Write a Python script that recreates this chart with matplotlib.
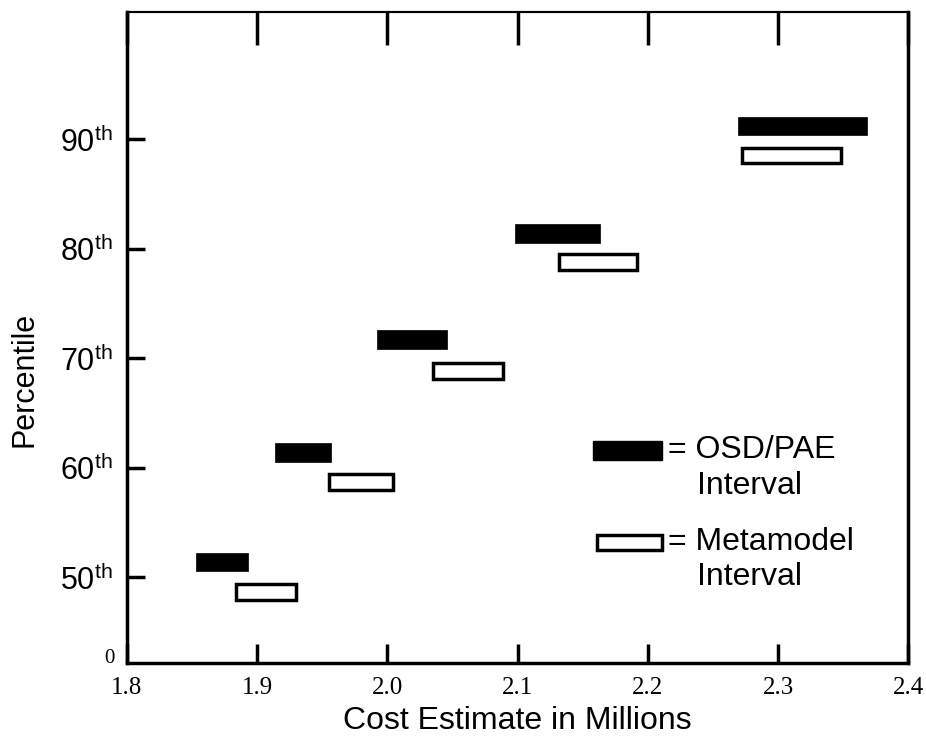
import matplotlib
matplotlib.use("Agg")
import matplotlib.pyplot as plt
from matplotlib.patches import Rectangle

plt.rcParams['font.family'] = ['Liberation Sans', 'DejaVu Sans']
plt.rcParams['mathtext.fontset'] = 'custom'
plt.rcParams['mathtext.rm'] = 'Liberation Sans'

# percentile intervals (cost estimate in millions)
percentiles = [50, 60, 70, 80, 90]
osd_y = [51.4, 61.4, 71.7, 81.4, 91.2]
osd_lo = [1.853, 1.914, 1.992, 2.098, 2.269]
osd_hi = [1.893, 1.957, 2.046, 2.163, 2.368]
meta_y = [48.7, 58.7, 68.8, 78.8, 88.5]
meta_lo = [1.884, 1.955, 2.035, 2.132, 2.272]
meta_hi = [1.930, 2.004, 2.089, 2.192, 2.348]
xticks = [1.8, 1.9, 2.0, 2.1, 2.2, 2.3, 2.4]

fig = plt.figure(figsize=(9.26, 7.49), dpi=100)
ax = fig.add_axes([0.137, 0.115, 0.844, 0.869])

ax.barh(osd_y, [h - l for l, h in zip(osd_lo, osd_hi)], left=osd_lo,
        height=1.7, color='black', edgecolor='black', linewidth=0.5)
ax.barh(meta_y, [h - l for l, h in zip(meta_lo, meta_hi)], left=meta_lo,
        height=1.45, color='white', edgecolor='black', linewidth=2.5)

ax.set_xlim(1.8, 2.4)
ax.set_ylim(42.2, 101.6)

ax.set_xticks(xticks)
ax.set_xticklabels(['%.1f' % v for v in xticks], family='Liberation Serif', fontsize=18)
ax.set_yticks(percentiles)
ax.set_yticklabels(['%d$^{\\mathrm{th}}$' % p for p in percentiles], fontsize=22)
ax.tick_params(axis='x', direction='in', length=14, width=2.5, pad=10)
ax.tick_params(axis='y', direction='in', length=13, width=2.5, pad=10)

# longer ticks along the top edge
top = ax.secondary_xaxis('top')
top.set_xticks(xticks)
top.tick_params(direction='in', length=24, width=2.5, labeltop=False)
top.spines['top'].set_linewidth(1.5)

for side in ['left', 'bottom', 'right']:
    ax.spines[side].set_linewidth(2.5)
ax.spines['top'].set_linewidth(1.5)

ax.text(-0.016, 0.006, '0', transform=ax.transAxes, ha='right', va='center',
        family='Liberation Serif', fontsize=15)

ax.set_xlabel('Cost Estimate in Millions', fontsize=23, labelpad=5)
ax.set_ylabel('Percentile', fontsize=22)
ax.yaxis.set_label_coords(-0.112, 0.435)

# hand drawn key
ax.add_patch(Rectangle((0.597, 0.312), 0.088, 0.029, transform=ax.transAxes,
                       facecolor='black', edgecolor='black'))
ax.add_patch(Rectangle((0.602, 0.174), 0.083, 0.022, transform=ax.transAxes,
                       facecolor='white', edgecolor='black', linewidth=2.5))
ax.text(0.693, 0.327, '= OSD/PAE', transform=ax.transAxes, va='center', fontsize=23)
ax.text(0.730, 0.272, 'Interval', transform=ax.transAxes, va='center', fontsize=23)
ax.text(0.693, 0.186, '= Metamodel', transform=ax.transAxes, va='center', fontsize=23)
ax.text(0.730, 0.132, 'Interval', transform=ax.transAxes, va='center', fontsize=23)

fig.savefig('out.png', dpi=100)
